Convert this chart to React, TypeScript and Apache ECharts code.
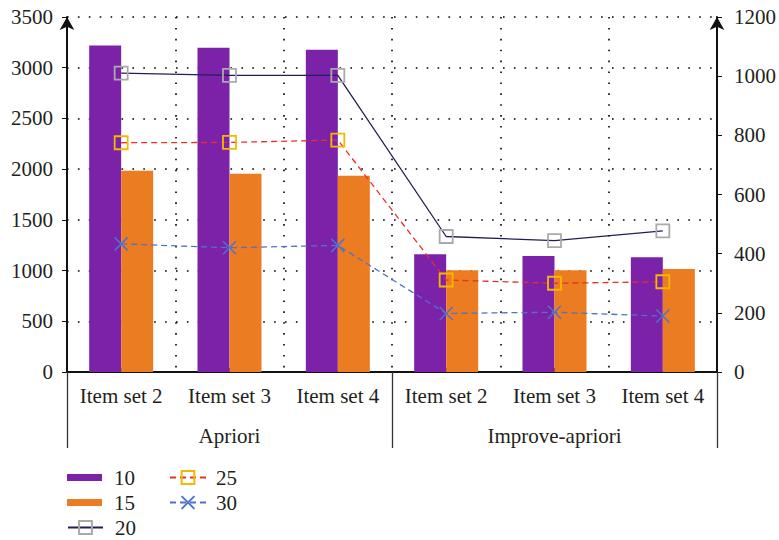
import React, { useEffect, useRef } from "react";
import * as echarts from "echarts";

const categories = ["Item set 2", "Item set 3", "Item set 4", "Item set 2", "Item set 3", "Item set 4"];
const groups = ["Apriori", "Improve-apriori"];
const series10 = [3220, 3197, 3178, 1160, 1143, 1131];
const series15 = [1985, 1955, 1935, 1002, 1002, 1015];
const series20 = [1010, 1003, 1003, 458, 444, 477];
const series25 = [775, 776, 784, 311, 300, 305];
const series30 = [433, 420, 428, 198, 202, 189];

const FONT = "Liberation Serif";
const TXT = "#231f20";
const FS = 21;

export default function App() {
  const ref = useRef<HTMLDivElement>(null);
  useEffect(() => {
    if (!ref.current) return;
    const chart = echarts.init(ref.current, undefined, { renderer: "svg" });
    const dotted = { color: "#000", width: 1.6, type: [1.6, 9.3] as any };
    const plain = (v: number) => String(v);
    const legendBase = {
      orient: "vertical",
      padding: 0,
      itemHeight: 16,
      itemGap: 4,
    };
    chart.setOption({
      animation: false,
      textStyle: { fontFamily: FONT },
      grid: { left: 67, right: 59, top: 17, bottom: 168, containLabel: false },
      legend: [
        {
          ...legendBase,
          left: 67,
          top: 467,
          itemWidth: 35,
          textStyle: { fontFamily: FONT, fontSize: FS, color: TXT, padding: [0, 0, 0, 7] },
          data: [
            { name: "10", icon: "path://M0,0h35v7h-35z" },
            { name: "15", icon: "path://M0,0h35v7h-35z" },
          ],
        },
        {
          ...legendBase,
          left: 67,
          top: 517,
          itemWidth: 35,
          textStyle: { fontFamily: FONT, fontSize: FS, color: TXT, padding: [0, 0, 0, 7] },
          data: [{ name: "20" }],
        },
        {
          ...legendBase,
          left: 169,
          top: 467,
          itemWidth: 36,
          textStyle: { fontFamily: FONT, fontSize: FS, color: TXT, padding: [0, 0, 0, 5] },
          data: [{ name: "25" }, { name: "30" }],
        },
      ],
      xAxis: [
        {
          type: "category",
          data: categories,
          position: "bottom",
          axisLine: { show: true, lineStyle: { color: "#111", width: 2 } },
          axisTick: { show: true, inside: true, length: 4, alignWithLabel: true, lineStyle: { color: "#111", width: 1 } },
          axisLabel: { fontFamily: FONT, fontSize: FS, color: TXT, margin: 13, interval: 0 },
          splitLine: { show: true, lineStyle: dotted },
        },
        {
          type: "category",
          data: groups,
          position: "bottom",
          offset: 0,
          axisLine: { show: false },
          axisTick: { show: true, length: 76, lineStyle: { color: "#333", width: 1.3 } },
          axisLabel: { fontFamily: FONT, fontSize: FS, color: TXT, margin: 53, interval: 0 },
          splitLine: { show: false },
        },
      ],
      yAxis: [
        {
          type: "value",
          min: 0,
          max: 3500,
          interval: 500,
          position: "left",
          axisLine: { show: true, lineStyle: { color: "#111", width: 2 }, symbol: ["none", "arrow"], symbolSize: [11, 13] },
          axisTick: { show: true, length: 5, lineStyle: { color: "#111", width: 1 } },
          axisLabel: { fontFamily: FONT, fontSize: FS, color: TXT, margin: 14, formatter: plain },
          splitLine: { show: true, lineStyle: dotted },
        },
        {
          type: "value",
          min: 0,
          max: 1200,
          interval: 200,
          position: "right",
          axisLine: { show: true, lineStyle: { color: "#111", width: 2 }, symbol: ["none", "arrow"], symbolSize: [11, 13] },
          axisTick: { show: true, length: 5, lineStyle: { color: "#111", width: 1 } },
          axisLabel: { fontFamily: FONT, fontSize: FS, color: TXT, margin: 17, formatter: plain },
          splitLine: { show: false },
        },
      ],
      series: [
        {
          name: "10",
          type: "bar",
          data: series10,
          barWidth: 32,
          barGap: "0%",
          itemStyle: { color: "#7b22a8" },
        },
        {
          name: "15",
          type: "bar",
          data: series15,
          barWidth: 32,
          barGap: "0%",
          itemStyle: { color: "#ec7c22" },
        },
        {
          name: "20",
          type: "line",
          yAxisIndex: 1,
          data: series20,
          symbol: "rect",
          symbolSize: 13,
          lineStyle: { color: "#1f2156", width: 1.3 },
          itemStyle: { color: "rgba(0,0,0,0)", borderColor: "#aaaaaa", borderWidth: 1.8 },
          z: 3,
        },
        {
          name: "25",
          type: "line",
          yAxisIndex: 1,
          data: series25,
          symbol: "rect",
          symbolSize: 13,
          lineStyle: { color: "#e8302a", width: 1.3, type: [6, 4] },
          itemStyle: { color: "rgba(0,0,0,0)", borderColor: "#f5b800", borderWidth: 1.8 },
          z: 3,
        },
        {
          name: "30",
          type: "line",
          yAxisIndex: 1,
          data: series30,
          symbol: "path://M0,0L10,10M0,10L10,0",
          symbolSize: 13,
          lineStyle: { color: "#4f73c9", width: 1.3, type: [6, 4] },
          itemStyle: { color: "rgba(0,0,0,0)", borderColor: "#4f73c9", borderWidth: 1.5 },
          z: 3,
        },
      ],
    });
    return () => chart.dispose();
  }, []);
  return <div ref={ref} style={{ width: 779, height: 540, position: "absolute", left: 0, top: 0 }} />;
}
